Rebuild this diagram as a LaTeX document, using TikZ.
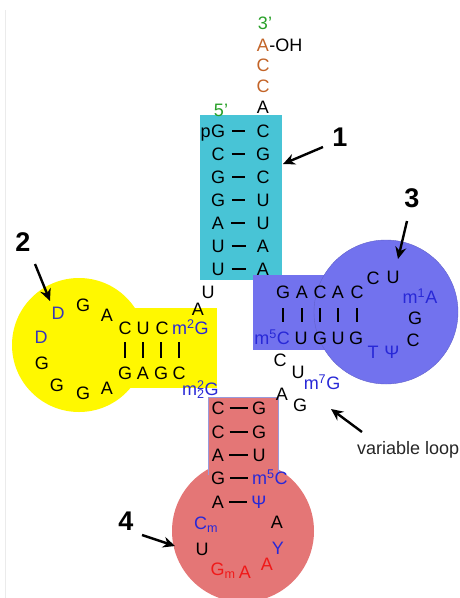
\documentclass[tikz,border=0pt]{standalone}
\usepackage{fontspec}
\setmainfont{Liberation Sans}
\usetikzlibrary{arrows.meta}
\definecolor{cyanbox}{RGB}{72,196,214}
\definecolor{yelbox}{RGB}{255,248,0}
\definecolor{bluebox}{RGB}{114,114,238}
\definecolor{redbox}{RGB}{228,118,118}
\definecolor{modblue}{RGB}{40,40,215}
\definecolor{dblue}{RGB}{55,55,185}
\definecolor{endgreen}{RGB}{40,160,40}
\definecolor{ccaorange}{RGB}{195,100,40}
\definecolor{redtxt}{RGB}{240,25,25}
\begin{document}
\begin{tikzpicture}[x=1pt,y=-1pt,
  nt/.style={inner sep=0pt, text height=13pt, text depth=0pt,
    font=\fontsize{18}{20}\selectfont, anchor=center},
  mb/.style={nt, text=modblue},
  num/.style={inner sep=0pt, font=\fontsize{27}{30}\selectfont\bfseries},
  bp/.style={line width=2.3pt},
  vbar/.style={line width=2.4pt},
  lblarrow/.style={line width=2.4pt, -{Stealth[length=12pt,width=11pt]}}]
\useasboundingbox (0,0) rectangle (460,598);
\fill[white] (0,0) rectangle (460,598);
\draw[black!8, line width=0.8pt] (5,10) -- (5,598);

% ---------- coloured regions ----------
\fill[cyanbox] (200,115) rectangle (282,280);
\fill[yelbox] (130,308) rectangle (217,388);
\fill[yelbox] (79,345) circle[radius=67];
\fill[bluebox] (253,275) rectangle (340,350);
\fill[bluebox] (386,312) circle[radius=72];
\draw[bluebox!85!black, line width=0.4pt] (386,312) circle[radius=72];
\fill[redbox] (243,531) circle[radius=71];
\fill[redbox] (208,397) rectangle (278,475);
\draw[black!35!blue!40, line width=0.5pt] (208,475) -- (208,397) -- (278,397) -- (278,475);

% ---------- acceptor arm ----------
\node[nt, text=endgreen] (p3) at (265,23) {3'};
\node[nt, text=ccaorange] (acc1) at (263,45) {A};
\node[nt, anchor=west] (oh) at (acc1.east) {-OH};
\node[nt, text=ccaorange] (acc2) at (263,65) {C};
\node[nt, text=ccaorange] (acc3) at (263,86) {C};
\node[nt] (acc4) at (263,107) {A};
\node[nt, text=endgreen] (p5) at (221,110) {5'};
\foreach \i/\L/\R in {1/G/C,2/C/G,3/G/C,4/G/U,5/A/U,6/U/A,7/U/A}{
  \node[nt] (a\i) at (218,{131+23*(\i-1)}) {\L};
  \node[nt] (b\i) at (263,{131+23*(\i-1)}) {\R};
  \draw[bp, shorten <=7pt, shorten >=11pt] (a\i.east) -- (b\i.west);
}
\node[nt, anchor=east] (pp) at (a1.west) {p};

% ---------- junction ----------
\node[nt] (j1) at (208,292) {U};
\node[nt] (j2) at (198,309) {A};

% ---------- D arm ----------
\node[nt] (dt1) at (125,328) {C};
\node[nt] (dt2) at (143,328) {U};
\node[nt] (dt3) at (162,328) {C};
\node[mb, anchor=west] (dt4) at (172,328) {m\textsuperscript{2}G};
\node[nt] (db1) at (125,373) {G};
\node[nt] (db2) at (143,373) {A};
\node[nt] (db3) at (161,373) {G};
\node[nt] (db4) at (179,373) {C};
\foreach \i in {1,...,4}{
  \draw[vbar, shorten <=15pt, shorten >=14pt] (db\i.center) -- (db\i |- dt1);
}
\node[mb, anchor=west] (dm22) at (182,389) {m\rlap{\textsuperscript{2}}\textsubscript{2}G};
\node[nt] (dl1) at (107,315) {A};
\node[nt] (dl2) at (83,305) {G};
\node[nt, text=dblue] (dl3) at (58,313) {D};
\node[nt, text=dblue] (dl4) at (41,337) {D};
\node[nt] (dl5) at (42,363) {G};
\node[nt] (dl6) at (57,385) {G};
\node[nt] (dl7) at (83,393) {G};
\node[nt] (dl8) at (107,388) {A};

% ---------- T arm ----------
\node[nt] (tt1) at (283,292) {G};
\node[nt] (tt2) at (302,292) {A};
\node[nt] (tt3) at (320,292) {C};
\node[nt] (tt4) at (338,292) {A};
\node[nt] (tt5) at (357,292) {C};
\node[mb, anchor=east] (tb1) at (290,338) {m\textsuperscript{5}C};
\node[nt] (tb2) at (301,338) {U};
\node[nt] (tb3) at (320,338) {G};
\node[nt] (tb4) at (338,338) {U};
\node[nt] (tb5) at (356,338) {G};
\foreach \i in {1,...,5}{
  \draw[vbar, shorten <=16pt, shorten >=16pt] (tt\i.center) -- (tt\i |- tb2);
}
\node[nt] (tl1) at (373,278) {C};
\node[nt] (tl2) at (393,277) {U};
\node[mb] (tl3) at (420,297) {m\textsuperscript{1}A};
\node[nt] (tl4) at (415,318) {G};
\node[nt] (tl5) at (413,340) {C};
\node[mb] (tl6) at (392,352) {Ψ};
\node[mb] (tl7) at (373,352) {T};

% ---------- variable loop ----------
\node[nt] (v1) at (280,360) {C};
\node[nt] (v2) at (298,372) {U};
\node[mb] (v3) at (322,383) {m\textsuperscript{7}G};
\node[nt] (v4) at (282,394) {A};
\node[nt] (v5) at (300,405) {G};
\node[nt, anchor=west, font=\fontsize{18}{20}\selectfont, text=black!85] (vl) at (357,448) {variable loop};

% ---------- anticodon arm ----------
\node[nt] (c1) at (218,408) {C};
\node[nt] (d1) at (259,408) {G};
\node[nt] (c2) at (218,432) {C};
\node[nt] (d2) at (259,432) {G};
\node[nt] (c3) at (218,455) {A};
\node[nt] (d3) at (259,455) {U};
\node[nt] (c4) at (218,478) {G};
\node[mb, anchor=west] (d4) at (252,478) {m\textsuperscript{5}C};
\node[nt] (c5) at (218,502) {A};
\node[mb] (d5) at (259,502) {Ψ};
\foreach \i in {1,...,5}{
  \draw[bp, shorten <=5pt, shorten >=4pt] (c\i.east) -- (c\i -| d\i.west);
}
\node[mb] (al1) at (206,523) {C\textsubscript{m}};
\node[nt] (al2) at (277,522) {A};
\node[nt] (al3) at (202,549) {U};
\node[mb] (al4) at (278,548) {Y};
\node[nt, text=redtxt] (al5) at (223,569) {G\textsubscript{m}};
\node[nt, text=redtxt] (al6) at (245,572) {A};
\node[nt, text=redtxt] (al7) at (267,564) {A};

% ---------- labels and arrows ----------
\node[num] (n1) at (340,137) {1};
\node[num] (n2) at (23,242) {2};
\node[num] (n3) at (412,198) {3};
\node[num] (n4) at (126,521) {4};
\coordinate (s1) at (323,147);  \coordinate (e1) at (283,164);
\coordinate (s2) at (35,264);   \coordinate (e2) at (50,301);
\coordinate (s3) at (407,221);  \coordinate (e3) at (398,259);
\coordinate (s4) at (142,535);  \coordinate (e4) at (175,546);
\coordinate (sv) at (362,432);  \coordinate (ev) at (331,409);
\draw[lblarrow] (s1) -- (e1);
\draw[lblarrow] (s2) -- (e2);
\draw[lblarrow] (s3) -- (e3);
\draw[lblarrow] (s4) -- (e4);
\draw[lblarrow] (sv) -- (ev);
\end{tikzpicture}
\end{document}
